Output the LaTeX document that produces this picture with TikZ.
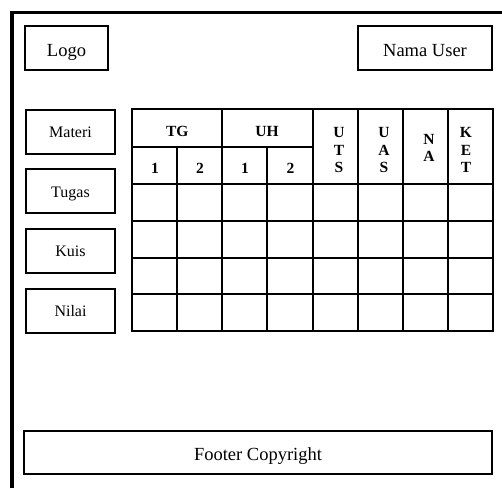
\documentclass[tikz,border=0pt]{standalone}
\usepackage{fontspec}
\setmainfont{Liberation Serif}

\begin{document}
\begin{tikzpicture}[x=1pt,y=-1pt,
  frame/.style={line width=3.5pt},
  box/.style={draw, line width=2pt, rectangle, inner sep=0pt,
              text height=16pt, text depth=0pt,
              font=\fontsize{18.5}{22}\selectfont},
  menubox/.style={box, minimum width=89pt, minimum height=44pt,
              text height=12.5pt, font=\fontsize{16}{19}\selectfont},
  grid/.style={line width=2.3pt},
  head/.style={inner sep=0pt, align=center,
              font=\fontsize{15.5}{17.7}\selectfont\bfseries}]
\useasboundingbox (0,0) rectangle (502,488);

% page frame, running off the right and bottom edges
\draw[frame] (12,488) -- (12,12.3) -- (502,12.3);

% header boxes
\node[box, minimum width=83pt, minimum height=44pt] (logo) at (66.5,48) {Logo};
\node[box, minimum width=134pt, minimum height=44pt] (user) at (425,48) {Nama User};

% side menu
\node[menubox] (materi) at (70.5,131.5) {Materi};
\node[menubox] (tugas)  at (70.5,191)   {Tugas};
\node[menubox] (kuis)   at (70.5,250.5) {Kuis};
\node[menubox] (nilai)  at (70.5,310.5) {Nilai};

% grade table
\draw[grid] (132,109) rectangle (493,331);
\foreach \x in {222,313,358,403,448} \draw[grid] (\x,109) -- (\x,331);
\foreach \x in {177,267} \draw[grid] (\x,147) -- (\x,331);
\draw[grid] (132,147) -- (313,147);
\foreach \y in {184,221,258,294} \draw[grid] (132,\y) -- (493,\y);

\node[head] (tg)  at (177.3,131) {TG};
\node[head] (uh)  at (267,131) {UH};
\node[head] (tg1) at (155,168) {1};
\node[head] (tg2) at (200,168) {2};
\node[head] (uh1) at (245,168) {1};
\node[head] (uh2) at (290.5,168) {2};
\node[head] (uts) at (339,150) {U\\T\\S};
\node[head] (uas) at (384,150) {U\\A\\S};
\node[head] (na)  at (429,148) {N\\A};
\node[head] (ket) at (466,150) {K\\E\\T};

% footer
\node[box, minimum width=468pt, minimum height=43pt, text height=15pt] (footer) at (258,452.5) {Footer Copyright};
\end{tikzpicture}
\end{document}
